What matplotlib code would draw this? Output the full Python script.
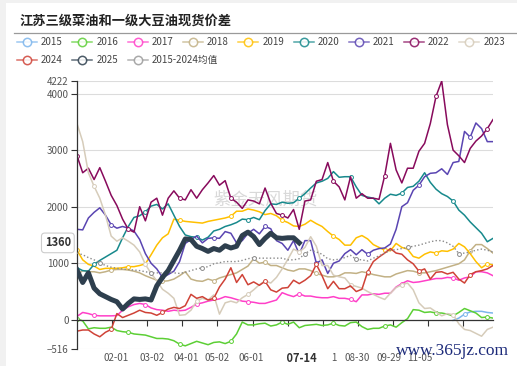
import numpy as np
import matplotlib.pyplot as plt
import matplotlib.transforms as mtransforms
from matplotlib.lines import Line2D
from matplotlib.patches import Rectangle

plt.rcParams['font.family'] = ['Noto Sans CJK SC', 'DejaVu Sans']

# x axis: one sample every STEP "days" across the season
STEP = 5

# 2015 only shows at the very end of the year
y2015_offset = 66
y2015 = [-10, 30, 100, 140, 150, 150, 130, 120]

y2016 = [20, -20, -160, -140, -150, -150, -130, -190, -210, -220,
         -250, -260, -270, -300, -330, -330, -340, -370, -430, -460,
         -420, -380, -410, -440, -400, -390, -420, -380, -250, -40,
         -90, -90, -70, -60, -110, -90, -40, -80, -40, -140,
         -100, -90, -80, -100, -90, -60, -100, -110, -50, -40,
         -120, -170, -150, -150, -110, -90, -130, -50, 20, 180,
         170, 130, 140, 120, 120, 100, 70, 130, 200, 160,
         120, 40, 50, 30]

y2017 = [60, 130, 110, 80, 70, 70, 70, 75, 170, 230,
         270, 290, 270, 210, 180, 170, 150, 170, 160, 170,
         220, 280, 300, 330, 350, 370, 410, 390, 360, 330,
         320, 310, 290, 290, 320, 350, 480, 440, 410, 460,
         420, 420, 400, 390, 390, 410, 380, 380, 360, 320,
         440, 440, 460, 450, 470, 470, 580, 640, 690, 660,
         670, 690, 710, 730, 730, 750, 740, 700, 740, 760,
         850, 850, 830, 780]

y2018 = [790, 870, 850, 850, 830, 850, 880, 890, 890, 880,
         860, 830, 780, 740, 700, 680, 690, 720, 780, 850,
         720, 690, 680, 720, 690, 740, 770, 800, 830, 890,
         950, 1080, 1000, 1020, 960, 960, 920, 880, 860, 900,
         900, 870, 820, 790, 760, 760, 780, 830, 830, 820,
         850, 830, 800, 780, 760, 760, 810, 840, 870, 860,
         830, 830, 850, 870, 900, 930, 960, 990, 1060, 1220,
         1330, 1330, 1260, 1180]

y2019 = [1230, 1060, 980, 950, 890, 910, 910, 910, 920, 940,
         940, 960, 990, 1150, 1320, 1450, 1520, 1780, 1760, 1740,
         1730, 1720, 1710, 1740, 1760, 1780, 1800, 1830, 1920, 1920,
         1960, 1940, 1910, 1860, 1880, 1840, 1760, 1720, 1660, 1650,
         1690, 1760, 1700, 1650, 1560, 1480, 1420, 1320, 1320, 1450,
         1490, 1430, 1330, 1280, 1230, 1220, 1350, 1280, 1250, 1120,
         1090, 1160, 1200, 1180, 1220, 1210, 1250, 1350, 1290, 1170,
         1030, 920, 990, 970]

y2020 = [920, 870, 860, 980, 1050, 1110, 1170, 1230, 1450, 1650,
         1810, 1840, 1910, 2010, 2040, 1960, 2050, 1850, 1650, 1500,
         1470, 1460, 1410, 1460, 1570, 1600, 1650, 1680, 1720, 1780,
         1770, 1810, 1770, 1930, 2050, 2040, 2080, 2060, 2070, 2150,
         2230, 2330, 2420, 2450, 2500, 2620, 2520, 2530, 2530, 2350,
         2200, 2170, 2150, 2050, 2150, 2220, 2200, 2240, 2340, 2360,
         2450, 2600, 2430, 2310, 2230, 2180, 2100, 1940, 1850, 1730,
         1630, 1530, 1380, 1440]

y2021 = [1600, 1590, 1800, 1900, 1980, 1850, 1680, 1620, 1650, 1620,
         1570, 1420, 1170, 1000, 900, 750, 800, 860, 1030, 1350,
         1420, 1480, 1360, 1440, 1450, 1440, 1560, 1530, 1360, 1400,
         1530, 1600, 1520, 1650, 1610, 1400, 1350, 1230, 1400, 1160,
         1400, 1400, 1000, 1060, 820, 1000, 1040, 1170, 1240, 1150,
         1240, 1160, 1230, 1260, 1270, 1340, 1600, 2000, 2070, 2290,
         2380, 2530, 2590, 2600, 2670, 2570, 2780, 2800, 3330, 3230,
         3480, 3380, 3150, 3150]

y2022 = [2900, 2600, 2680, 2480, 2690, 2450, 2200, 2020, 1780, 1600,
         1550, 2000, 1750, 2080, 2150, 1850, 2150, 2280, 2150, 2120,
         2300, 2150, 2300, 2420, 2550, 2380, 2460, 2150, 2080, 1970,
         2120, 2100, 2050, 2330, 2060, 1880, 1850, 1800, 1950, 1600,
         2100, 2120, 2450, 2480, 2780, 2450, 2350, 2120, 2530, 2150,
         2230, 2150, 2150, 2130, 2550, 3120, 2650, 2420, 2680, 2680,
         2980, 3120, 3470, 3950, 4222, 3450, 3000, 2900, 2780, 3030,
         3160, 3250, 3380, 3540]

y2023 = [3470, 3150, 2600, 2360, 2150, 1850, 1480, 1390, 1450, 1390,
         1320, 1200, 980, 820, 690, 540, 470, 380, 80, 90,
         170, 330, 380, 350, 440, 100, 300, 330, 300, 390,
         450, 530, 620, 690, 650, 750, 900, 1070, 1250, 1200,
         1280, 1470, 1300, 960, 960, 790, 760, 740, 620, 590,
         560, 500, 450, 400, 360, 470, 570, 620, 650, 530,
         300, 200, 210, 140, 70, 110, 90, -70, -170, -190,
         -240, -290, -170, -130]

y2024 = [-200, -180, -180, -250, -300, -220, -170, 110, 40, 80,
         120, 170, 130, 120, 80, 130, 190, 220, 200, 250,
         450, 380, 410, 350, 380, 580, 720, 920, 660, 800,
         620, 670, 610, 680, 530, 490, 560, 570, 700, 640,
         700, 780, 980, 780, 550, 680, 550, 550, 600, 500,
         540, 850, 1030, 1110, 1180, 1260, 1180, 1160, 1060, 990,
         860, 900, 720, 840, 850, 810, 840, 720, 650, 800,
         850, 870, 900, 960]

y2025 = [880, 660, 830, 560, 460, 410, 360, 320, 190, 290,
         370, 360, 370, 350, 600, 750, 870, 1050, 1230, 1430,
         1420, 1300, 1260, 1210, 1260, 1230, 1310, 1270, 1300, 1490,
         1550, 1470, 1330, 1440, 1530, 1450, 1440, 1450, 1450, 1360]

avg_2015_2024 = [1180, 1150, 1100, 1060, 1010, 960, 930, 910, 900, 890,
                 880, 870, 850, 830, 830, 830, 850, 830, 820, 840,
                 870, 900, 920, 940, 990, 1010, 1030, 1030, 1030, 1050,
                 1080, 1100, 1090, 1090, 1090, 1090, 1090, 1060, 1060, 1080,
                 1170, 1230, 1200, 1160, 1080, 1060, 1070, 1100, 1140, 1070,
                 1060, 1040, 1090, 1130, 1180, 1230, 1240, 1260, 1280, 1300,
                 1320, 1350, 1380, 1400, 1400, 1360, 1300, 1170, 1180, 1200,
                 1230, 1250, 1230, 1200]

series_labels = ['2015', '2016', '2017', '2018', '2019', '2020', '2021',
                 '2022', '2023', '2024', '2025', '2015-2024均值']
series_colors = ['#7cb5ec', '#5ccf35', '#ff3fc8', '#c2b185', '#ffc000',
                 '#17898c', '#5a45b2', '#880a5c', '#d6ccba', '#cf4237',
                 '#2e3f4e', '#9a9a9a']

y_ticks = [-516, 0, 1000, 2000, 3000, 4000, 4222]
date_pos = [34.2, 65.8, 95.6, 122.8, 152.6, 218.0, 245.6, 273.7, 300.9]
date_lbl = ['02-01', '03-02', '04-01', '05-02', '06-01', '08-01', '08-30',
            '09-29', '11-05']
current_pos = 197.4
current_lbl = '07-14'

W, H = 517, 366
fig = plt.figure(figsize=(W / 100, H / 100), dpi=100, facecolor='#f1f1f1')
fig.add_artist(Rectangle((6 / W, 0), 1, 1 - 3 / H, transform=fig.transFigure,
                         facecolor='white', edgecolor='none', zorder=-10))

ax = fig.add_axes([77 / W, 17 / H, 416 / W, 268 / H])
ax.set_facecolor('none')


def draw(vals, color, offset=0, lw=1.1, z=2, ls='-', moff=0, marks=True):
    x = (np.arange(len(vals)) + offset) * STEP
    kw = {}
    if marks:
        kw = dict(marker='o', ms=2.8, mfc='white', mec=color, mew=0.7,
                  markevery=(moff, 9))
    ax.plot(x, vals, color=color, lw=lw, ls=ls, zorder=z,
            solid_joinstyle='round', **kw)


all_years = [y2016, y2017, y2018, y2019, y2020, y2021, y2022, y2023, y2024]
draw(y2015, series_colors[0], offset=y2015_offset, moff=2)
for i, vals in enumerate(all_years):
    draw(vals, series_colors[i + 1], moff=(i * 3) % 9)
draw(avg_2015_2024, '#8a8a8a', lw=1.0, ls=(0, (1, 1.6)), z=3, moff=4)
draw(y2025, series_colors[10], lw=3.6, z=5, marks=False)

# axes styling
ax.set_xlim(0, 365)
ax.set_ylim(y_ticks[0], y_ticks[-1])
ax.set_yticks(y_ticks)
ax.yaxis.grid(True, color='#dcdcdc', lw=0.8)
ax.set_axisbelow(True)
ax.tick_params(axis='y', labelsize=7, labelcolor='#555555', length=4,
               color='#333333', width=0.8, pad=2)
for s in ['top', 'right']:
    ax.spines[s].set_visible(False)
ax.spines['left'].set_color('#333333')
ax.spines['left'].set_linewidth(0.9)
ax.spines['bottom'].set_position(('data', 0))
ax.spines['bottom'].set_color('#333333')
ax.spines['bottom'].set_linewidth(0.9)
ax.set_xticks(np.arange(1, 12) * 30.8)
ax.set_xticklabels([])
ax.tick_params(axis='x', length=4, color='#333333', width=0.8)

trans = mtransforms.blended_transform_factory(ax.transData, ax.transAxes)
for p, lbl in zip(date_pos, date_lbl):
    ax.text(p, -0.034, lbl, transform=trans, ha='center', va='center',
            fontsize=7, color='#555555')
# the current-date pointer label sits on a white plate that hides its neighbours
ax.text(current_pos, -0.034, '     ' + current_lbl + '     ', transform=trans,
        ha='center', va='center', fontsize=8, fontweight='bold',
        color='#333333', zorder=10,
        bbox=dict(boxstyle='square,pad=0.2', facecolor='white', edgecolor='none'))

# last value tag on the y axis
tag = mtransforms.blended_transform_factory(ax.transAxes, ax.transData)
ax.text(-0.046, y2025[-1], str(y2025[-1]), transform=tag, ha='center',
        va='center', fontsize=8, fontweight='bold', color='#333333', zorder=10,
        bbox=dict(boxstyle='round,pad=0.3', facecolor='white',
                  edgecolor='#cccccc', lw=0.8))

# watermark
ax.text(0.452, 0.556, '紫金天风期货', transform=ax.transAxes, ha='center',
        va='center', fontsize=12.5, color='#d9d9d9', zorder=1)

# title and rule
fig.text(20 / W, 1 - 21 / H, '江苏三级菜油和一级大豆油现货价差', fontsize=9.5,
         fontweight='bold', color='#222222', va='center', ha='left')
fig.add_artist(Line2D([14 / W, 1], [1 - 33 / H] * 2, color='#9a9a9a', lw=0.9,
                      transform=fig.transFigure))

# legend
for i, (lbl, col) in enumerate(zip(series_labels, series_colors)):
    row, colno = divmod(i, 9)
    cx = 27 + 55.3 * colno
    cy = 1 - (42 + 18 * row) / H
    fig.add_artist(Line2D([(cx - 10) / W, (cx + 10) / W], [cy, cy], color=col,
                          lw=1.1, alpha=0.75, transform=fig.transFigure))
    fig.add_artist(Line2D([cx / W], [cy], marker='o', ms=6, mfc='white',
                          mec=col, mew=1.1, alpha=0.85, transform=fig.transFigure))
    fig.text((cx + 14) / W, cy, lbl, fontsize=7, color='#444444', va='center',
             ha='left')

fig.text(452 / W, 1 - 351 / H, 'www.365jz.com', fontsize=12.5,
         family='Liberation Serif', color='#1d2b7a', ha='center', va='center')

plt.savefig('out.png', dpi=100, facecolor=fig.get_facecolor())
